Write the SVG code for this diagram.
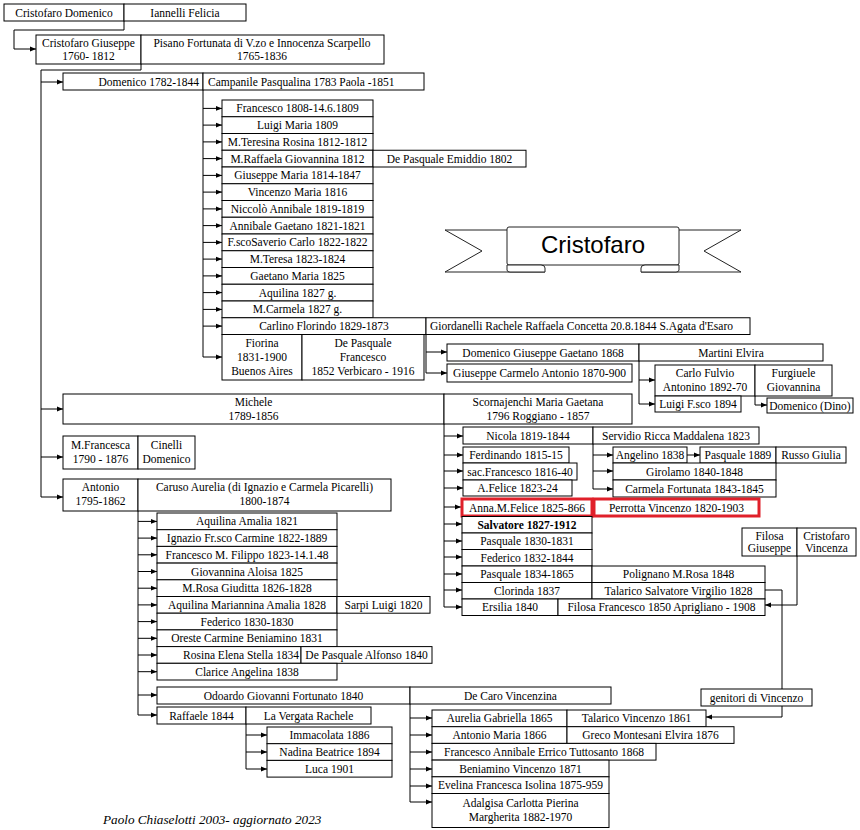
<svg xmlns="http://www.w3.org/2000/svg" width="860" height="830" viewBox="0 0 860 830">
<defs>
<marker id="ar" markerWidth="7" markerHeight="6" refX="6" refY="3" orient="auto" markerUnits="userSpaceOnUse"><path d="M0,0.6 L6,3 L0,5.4 z" fill="#000"/></marker>
<style>
rect{fill:#fff;stroke:#000;stroke-width:1}
text{font-family:"Liberation Serif","Times New Roman",serif;font-size:11.5px;fill:#000;text-anchor:middle}
.st{text-anchor:start}
.en{text-anchor:end}
.bd{font-weight:bold}
.red{stroke:#e0202a;stroke-width:3}
#connectors path{fill:none;stroke:#000;stroke-width:1}
.a{marker-end:url(#ar)}
.bn{fill:#fff;stroke:#222;stroke-width:1}
.ttl{font-family:"Liberation Sans",Arial,sans-serif;font-size:24px}
.foot{font-style:italic;font-size:13.2px;text-anchor:start}
</style>
</defs>
<rect x="0" y="0" width="860" height="830" style="stroke:none"/>

<g id="connectors">
<path class="a" d="M124,21 V30 H14 V49 H36"/>
<path class="a" d="M141,64 V70 H41 V497 H63"/>
<path class="a" d="M41,82 H63"/>
<path class="a" d="M41,409 H63"/>
<path class="a" d="M41,457 H63"/>
<path class="a" d="M203,90 V357 H222"/>
<path class="a" d="M203,108.4 H222"/>
<path class="a" d="M203,125.1 H222"/>
<path class="a" d="M203,141.9 H222"/>
<path class="a" d="M203,158.6 H222"/>
<path class="a" d="M203,175.4 H222"/>
<path class="a" d="M203,192.1 H222"/>
<path class="a" d="M203,208.9 H222"/>
<path class="a" d="M203,225.6 H222"/>
<path class="a" d="M203,242.4 H222"/>
<path class="a" d="M203,259.1 H222"/>
<path class="a" d="M203,275.9 H222"/>
<path class="a" d="M203,292.6 H222"/>
<path class="a" d="M203,309.4 H222"/>
<path class="a" d="M203,326.1 H222"/>
<path class="a" d="M426,334.5 V373 H447"/>
<path class="a" d="M426,352 H447"/>
<path class="a" d="M639,361 V404 H655"/>
<path class="a" d="M639,380 H655"/>
<path class="a" d="M755,396 V405 H767"/>
<path class="a" d="M444,424 V607 H462"/>
<path class="a" d="M444,436 H463"/>
<path class="a" d="M444,455 H463"/>
<path class="a" d="M444,471 H463"/>
<path class="a" d="M444,488 H463"/>
<path class="a" d="M444,507 H461"/>
<path class="a" d="M444,524 H462"/>
<path class="a" d="M444,541 H462"/>
<path class="a" d="M444,557 H462"/>
<path class="a" d="M444,574 H462"/>
<path class="a" d="M444,590 H462"/>
<path class="a" d="M593,444 V489 H613"/>
<path class="a" d="M593,455 H613"/>
<path class="a" d="M593,471 H613"/>
<path class="a" d="M687,455 H700"/>
<path class="a" d="M797,556 V605 H765"/>
<path d="M765,590 H782 V689"/>
<path class="a" d="M782,706 V717 H706"/>
<path class="a" d="M138,511 V715 H157"/>
<path class="a" d="M138,521.4 H157"/>
<path class="a" d="M138,538.1 H157"/>
<path class="a" d="M138,554.8 H157"/>
<path class="a" d="M138,571.5 H157"/>
<path class="a" d="M138,588.2 H157"/>
<path class="a" d="M138,604.9 H157"/>
<path class="a" d="M138,621.6 H157"/>
<path class="a" d="M138,638.3 H157"/>
<path class="a" d="M138,655 H157"/>
<path class="a" d="M138,671.7 H157"/>
<path class="a" d="M138,695 H157"/>
<path class="a" d="M246,724 V769 H267"/>
<path class="a" d="M246,735 H267"/>
<path class="a" d="M246,752 H267"/>
<path class="a" d="M410,704 V802 H432"/>
<path class="a" d="M410,718 H432"/>
<path class="a" d="M410,735 H432"/>
<path class="a" d="M410,752 H432"/>
<path class="a" d="M410,769 H432"/>
<path class="a" d="M410,786 H432"/>
</g>

<g id="banner">
<path class="bn" d="M507,230 H445 L482,251 L445,272 H545"/>
<path class="bn" d="M679,230 H741 L704,251 L741,272 H641"/>
<rect class="bn" x="507" y="227" width="172" height="38" rx="2"/>
<path class="bn" d="M507,265 V270 Q507,272 510,272 H545 V268 Q545,265 541,265 Z"/>
<path class="bn" d="M679,265 V270 Q679,272 676,272 H641 V268 Q641,265 645,265 Z"/>
<text class="ttl" x="593" y="253">Cristofaro</text>
</g>

<g id="n-cristofaro-domenico"><rect x="4" y="4" width="120" height="17"/><text x="64" y="16.5">Cristofaro Domenico</text></g>
<g id="n-iannelli"><rect x="124" y="4" width="122" height="17"/><text x="185" y="16.5">Iannelli Felicia</text></g>

<g id="n-giuseppe"><rect x="36" y="35" width="105" height="29"/><text x="88.5" y="47">Cristofaro Giuseppe</text><text x="88.5" y="60">1760- 1812</text></g>
<g id="n-pisano"><rect x="141" y="35" width="243" height="29"/><text x="262" y="47">Pisano Fortunata di V.zo e Innocenza Scarpello</text><text x="262" y="60">1765-1836</text></g>

<g id="n-domenico"><rect x="63" y="73" width="140" height="17"/><text class="en" x="199" y="85.5">Domenico 1782-1844</text></g>
<g id="n-campanile"><rect x="203" y="73" width="221" height="17"/><text class="st" x="208" y="85.5">Campanile Pasqualina 1783 Paola -1851</text></g>

<g id="n-d01"><rect x="222" y="100" width="151" height="16.75"/><text x="297.5" y="112.4">Francesco 1808-14.6.1809</text></g>
<g id="n-d02"><rect x="222" y="116.75" width="151" height="16.75"/><text x="297.5" y="129.1">Luigi Maria 1809</text></g>
<g id="n-d03"><rect x="222" y="133.5" width="151" height="16.75"/><text x="297.5" y="145.9">M.Teresina Rosina 1812-1812</text></g>
<g id="n-d04"><rect x="222" y="150.25" width="151" height="16.75"/><text x="297.5" y="162.6">M.Raffaela Giovannina 1812</text></g>
<g id="n-d04s"><rect x="373" y="150.25" width="153" height="16.75"/><text x="449.5" y="162.6">De Pasquale Emiddio 1802</text></g>
<g id="n-d05"><rect x="222" y="167" width="151" height="16.75"/><text x="297.5" y="179.4">Giuseppe Maria 1814-1847</text></g>
<g id="n-d06"><rect x="222" y="183.75" width="151" height="16.75"/><text x="297.5" y="196.1">Vincenzo Maria 1816</text></g>
<g id="n-d07"><rect x="222" y="200.5" width="151" height="16.75"/><text x="297.5" y="212.9">Niccolò Annibale 1819-1819</text></g>
<g id="n-d08"><rect x="222" y="217.25" width="151" height="16.75"/><text x="297.5" y="229.6">Annibale Gaetano 1821-1821</text></g>
<g id="n-d09"><rect x="222" y="234" width="151" height="16.75"/><text x="297.5" y="246.4">F.scoSaverio Carlo 1822-1822</text></g>
<g id="n-d10"><rect x="222" y="250.75" width="151" height="16.75"/><text x="297.5" y="263.1">M.Teresa 1823-1824</text></g>
<g id="n-d11"><rect x="222" y="267.5" width="151" height="16.75"/><text x="297.5" y="279.9">Gaetano Maria 1825</text></g>
<g id="n-d12"><rect x="222" y="284.25" width="151" height="16.75"/><text x="297.5" y="296.6">Aquilina 1827 g.</text></g>
<g id="n-d13"><rect x="222" y="301" width="151" height="16.75"/><text x="297.5" y="313.4">M.Carmela 1827 g.</text></g>
<g id="n-carlino"><rect x="222" y="317.75" width="204" height="16.75"/><text x="324" y="330.1">Carlino Florindo 1829-1873</text></g>
<g id="n-giordanelli"><rect x="426" y="317.75" width="324" height="16.75"/><text class="st" x="430" y="330.1">Giordanelli Rachele Raffaela Concetta 20.8.1844 S.Agata d'Esaro</text></g>
<g id="n-fiorina"><rect x="222" y="334.5" width="80" height="45.5"/><text x="262" y="347">Fiorina</text><text x="262" y="361">1831-1900</text><text x="262" y="375">Buenos Aires</text></g>
<g id="n-depasquale-f"><rect x="302" y="334.5" width="122" height="45.5"/><text x="363" y="347">De Pasquale</text><text x="363" y="361">Francesco</text><text x="363" y="375">1852 Verbicaro - 1916</text></g>

<g id="n-domenico-gg"><rect x="447" y="344" width="192" height="17"/><text x="543" y="356.5">Domenico Giuseppe Gaetano 1868</text></g>
<g id="n-martini"><rect x="639" y="344" width="184" height="17"/><text x="731" y="356.5">Martini Elvira</text></g>
<g id="n-giuseppe-ca"><rect x="447" y="364" width="185" height="18"/><text x="539.5" y="377">Giuseppe Carmelo Antonio 1870-900</text></g>
<g id="n-carlo-fulvio"><rect x="655" y="365" width="100" height="31"/><text x="705" y="377">Carlo Fulvio</text><text x="705" y="391">Antonino 1892-70</text></g>
<g id="n-furgiuele"><rect x="755" y="365" width="77" height="31"/><text x="793.5" y="377">Furgiuele</text><text x="793.5" y="391">Giovannina</text></g>
<g id="n-luigi"><rect x="655" y="396" width="86" height="16"/><text x="698" y="408">Luigi F.sco 1894</text></g>
<g id="n-dino"><rect x="767" y="398" width="86" height="15"/><text x="810" y="409.5">Domenico (Dino)</text></g>

<g id="n-michele"><rect x="63" y="394" width="381" height="30"/><text x="253.5" y="406">Michele</text><text x="253.5" y="420">1789-1856</text></g>
<g id="n-scornajenchi"><rect x="444" y="394" width="188" height="30"/><text x="538" y="406">Scornajenchi Maria Gaetana</text><text x="538" y="420">1796 Roggiano - 1857</text></g>

<g id="n-mfrancesca"><rect x="63" y="436" width="75" height="33"/><text x="100.5" y="449">M.Francesca</text><text x="100.5" y="463">1790 - 1876</text></g>
<g id="n-cinelli"><rect x="138" y="436" width="57" height="33"/><text x="166.5" y="449">Cinelli</text><text x="166.5" y="463">Domenico</text></g>

<g id="n-antonio"><rect x="63" y="479" width="75" height="32"/><text x="100.5" y="491">Antonio</text><text x="100.5" y="505">1795-1862</text></g>
<g id="n-caruso"><rect x="138" y="479" width="253" height="32"/><text x="264.5" y="491">Caruso Aurelia (di Ignazio e Carmela Picarelli)</text><text x="264.5" y="505">1800-1874</text></g>

<g id="n-nicola"><rect x="463" y="427" width="130" height="17"/><text x="528" y="439.5">Nicola 1819-1844</text></g>
<g id="n-servidio"><rect x="593" y="427" width="166" height="17"/><text x="676" y="439.5">Servidio Ricca Maddalena 1823</text></g>
<g id="n-ferdinando"><rect x="463" y="447" width="106" height="16"/><text x="516" y="459">Ferdinando 1815-15</text></g>
<g id="n-sacfrancesco"><rect x="463" y="463" width="114" height="17"/><text x="520" y="475.5">sac.Francesco 1816-40</text></g>
<g id="n-afelice"><rect x="463" y="480" width="109" height="16"/><text x="517.5" y="492">A.Felice 1823-24</text></g>
<g id="n-angelino"><rect x="613" y="447" width="74" height="16"/><text x="650" y="459">Angelino 1838</text></g>
<g id="n-pasquale1889"><rect x="700" y="447" width="76" height="16"/><text x="738" y="459">Pasquale 1889</text></g>
<g id="n-russo"><rect x="776" y="447" width="70" height="16"/><text x="811" y="459">Russo Giulia</text></g>
<g id="n-girolamo"><rect x="613" y="463" width="163" height="17"/><text x="694.5" y="475.5">Girolamo 1840-1848</text></g>
<g id="n-carmela"><rect x="613" y="480" width="163" height="17"/><text x="694.5" y="492.5">Carmela Fortunata 1843-1845</text></g>

<g id="n-annamfelice"><rect class="red" x="462" y="499" width="130" height="17"/><text x="527" y="511.5">Anna.M.Felice 1825-866</text></g>
<g id="n-perrotta"><rect class="red" x="594" y="499" width="165" height="17"/><text x="676.5" y="511.5">Perrotta Vincenzo 1820-1903</text></g>
<g id="n-salvatore"><rect x="462" y="516.5" width="130" height="16.5"/><text class="bd" x="527" y="528.8">Salvatore 1827-1912</text></g>
<g id="n-pasquale1830"><rect x="462" y="533" width="130" height="16.5"/><text x="527" y="545.3">Pasquale 1830-1831</text></g>
<g id="n-federico1832"><rect x="462" y="549.5" width="130" height="16.5"/><text x="527" y="561.8">Federico 1832-1844</text></g>
<g id="n-pasquale1834"><rect x="462" y="566" width="130" height="16.5"/><text x="527" y="578.3">Pasquale 1834-1865</text></g>
<g id="n-polignano"><rect x="592" y="566" width="173" height="16.5"/><text x="678.5" y="578.3">Polignano M.Rosa 1848</text></g>
<g id="n-clorinda"><rect x="462" y="582.5" width="130" height="16.5"/><text x="527" y="594.8">Clorinda 1837</text></g>
<g id="n-talarico-sv"><rect x="592" y="582.5" width="173" height="16.5"/><text x="678.5" y="594.8">Talarico Salvatore Virgilio 1828</text></g>
<g id="n-ersilia"><rect x="462" y="599" width="96" height="16.5"/><text x="510" y="611.3">Ersilia 1840</text></g>
<g id="n-filosa-f"><rect x="558" y="599" width="207" height="16.5"/><text x="661.5" y="611.3">Filosa Francesco 1850 Aprigliano - 1908</text></g>

<g id="n-filosa-g"><rect x="742" y="528" width="55" height="28"/><text x="769.5" y="539.5">Filosa</text><text x="769.5" y="551.5">Giuseppe</text></g>
<g id="n-cristofaro-v"><rect x="797" y="528" width="59" height="28"/><text x="826.5" y="539.5">Cristofaro</text><text x="826.5" y="551.5">Vincenza</text></g>
<g id="n-genitori"><rect x="701" y="689" width="111" height="17"/><text x="756.5" y="701.5">genitori di Vincenzo</text></g>

<g id="n-a01"><rect x="157" y="513" width="180" height="16.7"/><text x="247" y="525.4">Aquilina Amalia 1821</text></g>
<g id="n-a02"><rect x="157" y="529.7" width="180" height="16.7"/><text x="247" y="542.1">Ignazio Fr.sco Carmine 1822-1889</text></g>
<g id="n-a03"><rect x="157" y="546.4" width="180" height="16.7"/><text x="247" y="558.8">Francesco M. Filippo 1823-14.1.48</text></g>
<g id="n-a04"><rect x="157" y="563.1" width="180" height="16.7"/><text x="247" y="575.5">Giovannina Aloisa 1825</text></g>
<g id="n-a05"><rect x="157" y="579.8" width="180" height="16.7"/><text x="247" y="592.2">M.Rosa Giuditta 1826-1828</text></g>
<g id="n-a06"><rect x="157" y="596.5" width="180" height="16.7"/><text x="247" y="608.9">Aquilina Mariannina Amalia 1828</text></g>
<g id="n-sarpi"><rect x="337" y="596.5" width="93" height="16.7"/><text x="383.5" y="608.9">Sarpi Luigi 1820</text></g>
<g id="n-a07"><rect x="157" y="613.2" width="180" height="16.7"/><text x="247" y="625.6">Federico 1830-1830</text></g>
<g id="n-a08"><rect x="157" y="629.9" width="180" height="16.7"/><text x="247" y="642.3">Oreste Carmine Beniamino 1831</text></g>
<g id="n-a09"><rect x="157" y="646.6" width="144" height="16.7"/><text class="en" x="299" y="659">Rosina Elena Stella 1834</text></g>
<g id="n-depasquale-a"><rect x="301" y="646.6" width="131" height="16.7"/><text x="366.5" y="659">De Pasquale Alfonso 1840</text></g>
<g id="n-a10"><rect x="157" y="663.3" width="180" height="16.7"/><text x="247" y="675.7">Clarice Angelina 1838</text></g>

<g id="n-odoardo"><rect x="157" y="687" width="253" height="17"/><text x="283.5" y="699.5">Odoardo Giovanni Fortunato 1840</text></g>
<g id="n-decaro"><rect x="410" y="687" width="201" height="17"/><text x="510.5" y="699.5">De Caro Vincenzina</text></g>
<g id="n-raffaele"><rect x="157" y="707" width="89" height="17"/><text x="201.5" y="719.5">Raffaele 1844</text></g>
<g id="n-lavergata"><rect x="246" y="707" width="125" height="17"/><text x="308.5" y="719.5">La Vergata Rachele</text></g>
<g id="n-immacolata"><rect x="267" y="727" width="125" height="16.7"/><text x="329.5" y="739.4">Immacolata 1886</text></g>
<g id="n-nadina"><rect x="267" y="743.7" width="125" height="16.7"/><text x="329.5" y="756.1">Nadina Beatrice 1894</text></g>
<g id="n-luca"><rect x="267" y="760.4" width="125" height="16.7"/><text x="329.5" y="772.8">Luca 1901</text></g>

<g id="n-aurelia"><rect x="432" y="710" width="135" height="16.7"/><text x="499.5" y="722.4">Aurelia Gabriella 1865</text></g>
<g id="n-talarico-v"><rect x="567" y="710" width="139" height="16.7"/><text x="636.5" y="722.4">Talarico Vincenzo 1861</text></g>
<g id="n-antonio-m"><rect x="432" y="726.7" width="135" height="16.7"/><text x="499.5" y="739.1">Antonio Maria 1866</text></g>
<g id="n-greco"><rect x="567" y="726.7" width="167" height="16.7"/><text x="650.5" y="739.1">Greco Montesani Elvira 1876</text></g>
<g id="n-francesco-a"><rect x="432" y="743.4" width="224" height="16.7"/><text x="544" y="755.8">Francesco Annibale Errico Tuttosanto 1868</text></g>
<g id="n-beniamino"><rect x="432" y="760.1" width="177" height="16.7"/><text x="520.5" y="772.5">Beniamino Vincenzo 1871</text></g>
<g id="n-evelina"><rect x="432" y="776.8" width="177" height="16.7"/><text x="520.5" y="789.2">Evelina Francesca Isolina 1875-959</text></g>
<g id="n-adalgisa"><rect x="432" y="793.5" width="177" height="34"/><text x="520.5" y="806.5">Adalgisa Carlotta Pierina</text><text x="520.5" y="820.5">Margherita 1882-1970</text></g>

<text class="foot" x="103" y="824">Paolo Chiaselotti 2003- aggiornato 2023</text>
</svg>
